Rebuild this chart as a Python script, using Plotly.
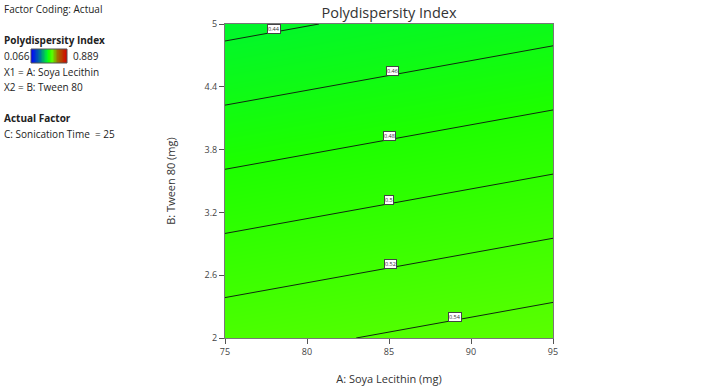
import plotly.graph_objects as go

# Factor ranges
soya = [75, 95]          # A: Soya Lecithin (mg)
tween = [2, 5]           # B: Tween 80 (mg)
# PDI read at the four corners of the design space (rows: tween, cols: soya)
pdi = [[0.5326, 0.5511],
       [0.4347, 0.4532]]
levels = [0.44, 0.46, 0.48, 0.50, 0.52, 0.54]
level_labels = ["0.44", "0.46", "0.48", "0.5", "0.52", "0.54"]
label_A = [78.0, 85.2, 85.0, 85.0, 85.1, 89.0]
label_B = [4.955, 4.548, 3.930, 3.316, 2.707, 2.204]
pdi_min, pdi_max = 0.066, 0.889
xticks = [75, 80, 85, 90, 95]
yticks = [2, 2.6, 3.2, 3.8, 4.4, 5]

W, H = 727, 392
px0, px1, py0, py1 = 225, 553, 24, 338

cscale = [
    [0.0, "rgb(0,0,255)"],
    [0.25, "rgb(0,120,150)"],
    [0.448, "rgb(0,246,45)"],
    [0.5, "rgb(28,255,0)"],
    [0.589, "rgb(90,255,0)"],
    [0.75, "rgb(160,110,0)"],
    [1.0, "rgb(215,0,0)"],
]

fig = go.Figure()
fig.add_trace(go.Contour(
    x=soya, y=tween, z=pdi,
    colorscale=cscale, zmin=pdi_min, zmax=pdi_max,
    contours=dict(coloring="heatmap", start=levels[0], end=levels[-1], size=0.02,
                  showlines=True),
    line=dict(color="rgb(15,40,15)", width=1),
    showscale=False, hoverinfo="skip",
))

# legend gradient bar
n = 60
bar_vals = [pdi_min + (pdi_max - pdi_min) * i / (n - 1) for i in range(n)]
fig.add_trace(go.Heatmap(
    z=[bar_vals], x=list(range(n)), y=[0],
    colorscale=cscale, zmin=pdi_min, zmax=pdi_max,
    showscale=False, hoverinfo="skip", xaxis="x2", yaxis="y2",
))

for t, a, b in zip(level_labels, label_A, label_B):
    fig.add_annotation(x=a, y=b, text=t, showarrow=False,
                       font=dict(size=5.5, color="#333", family="Open Sans"),
                       bgcolor="white", bordercolor="#444", borderwidth=1, borderpad=0)

def tx(text, x, y, bold=False, size=10):
    fig.add_annotation(x=x / W, y=1 - y / H, xref="paper", yref="paper",
                       xanchor="left", yanchor="middle", showarrow=False,
                       text=("<b>%s</b>" % text) if bold else text,
                       font=dict(size=size, color="#222", family="Open Sans"))

tx("Factor Coding: Actual", 2, 9)
tx("Polydispersity Index", 2, 40, bold=True)
tx("%.3f" % pdi_min, 2, 56)
tx("%.3f" % pdi_max, 71, 56)
tx("X1 = A: Soya Lecithin", 2, 72)
tx("X2 = B: Tween 80", 2, 87)
tx("Actual Factor", 2, 118, bold=True)
tx("C: Sonication Time  = 25", 2, 134)

axis_common = dict(showgrid=False, zeroline=False, ticks="outside", ticklen=5,
                   tickcolor="#555", linecolor="#777", showline=True, mirror=True,
                   automargin=False,
                   tickfont=dict(size=9, color="#444", family="Open Sans"))

fig.update_layout(
    width=W, height=H, margin=dict(l=0, r=0, t=0, b=0, autoexpand=False),
    paper_bgcolor="white", plot_bgcolor="white",
    title=dict(text="Polydispersity Index", x=(px0 + px1) / 2 / W, xanchor="center",
               y=1 - 13 / H, yanchor="middle", automargin=False,
               font=dict(size=14.5, color="#333", family="Open Sans")),
    xaxis=dict(domain=[px0 / W, px1 / W], range=soya, tickvals=xticks,
               title=dict(text="A: Soya Lecithin (mg)", standoff=18,
                          font=dict(size=11, color="#333", family="Open Sans")),
               **axis_common),
    yaxis=dict(domain=[1 - py1 / H, 1 - py0 / H], range=tween, tickvals=yticks,
               ticktext=[("%g" % v) for v in yticks],
               title=dict(text="B: Tween 80 (mg)", standoff=26,
                          font=dict(size=11, color="#333", family="Open Sans")),
               **axis_common),
    xaxis2=dict(domain=[31 / W, 67 / W], anchor="y2", visible=False,
                range=[-0.5, n - 0.5]),
    yaxis2=dict(domain=[1 - 63 / H, 1 - 49 / H], anchor="x2", visible=False,
                range=[-0.5, 0.5]),
    shapes=[dict(type="rect", xref="paper", yref="paper",
                 x0=31 / W, x1=67 / W, y0=1 - 63 / H, y1=1 - 49 / H,
                 line=dict(color="#555", width=1))],
)

fig.write_html("out.html", config={"displayModeBar": False},
               post_script="document.body.style.margin='0';document.body.style.overflow='hidden';")
